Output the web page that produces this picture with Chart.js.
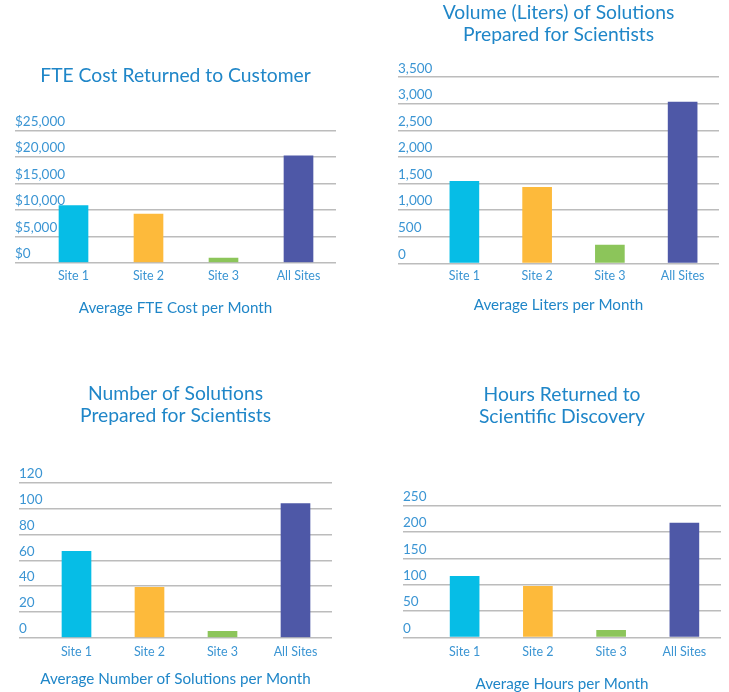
<!DOCTYPE html>
<html>
<head>
<meta charset="utf-8">
<script src="https://cdn.jsdelivr.net/npm/chart.js@4.4.1/dist/chart.umd.min.js"></script>
<style>
  html, body { margin: 0; padding: 0; background: #fff; }
  body { width: 729px; height: 692px; position: relative; overflow: hidden; }
  .box { position: absolute; }
</style>
</head>
<body>
<div class="box" id="b1"><canvas id="c1"></canvas></div>
<div class="box" id="b2"><canvas id="c2"></canvas></div>
<div class="box" id="b3"><canvas id="c3"></canvas></div>
<div class="box" id="b4"><canvas id="c4"></canvas></div>
<script>
const sites = ["Site 1", "Site 2", "Site 3", "All Sites"];
const barColors = ["#06bde6", "#fdba3b", "#8cc55a", "#4e58a7"];

const fteCost = [10800, 9200, 900, 20200];
const fteTicks = [0, 5000, 10000, 15000, 20000, 25000];

const liters = [1540, 1430, 340, 3030];
const literTicks = [0, 500, 1000, 1500, 2000, 2500, 3000, 3500];

const solutions = [67, 39, 5, 104];
const solutionTicks = [0, 20, 40, 60, 80, 100, 120];

const hours = [116, 97, 13, 217];
const hourTicks = [0, 50, 100, 150, 200, 250];

const FONT = "Lato";
const titleColor = "#1f86c8";
const tickColor = "#3b95d3";
const gridColor = "#bcbcbc";

function makeChart(id, box, cfg) {
  const holder = document.getElementById(box.id);
  holder.style.left = box.left + "px";
  holder.style.top = box.top + "px";
  holder.style.width = box.width + "px";
  holder.style.height = box.height + "px";

  const ticks = cfg.ticks;
  new Chart(document.getElementById(id), {
    type: "bar",
    data: {
      labels: sites,
      datasets: [{
        data: cfg.values,
        backgroundColor: barColors,
        borderWidth: 0,
        barThickness: 29
      }]
    },
    options: {
      responsive: true,
      maintainAspectRatio: false,
      animation: false,
      layout: { padding: 0 },
      plugins: {
        legend: { display: false },
        tooltip: { enabled: false },
        title: {
          display: true,
          text: cfg.title,
          color: titleColor,
          font: { family: FONT, size: 19.3, weight: "normal", lineHeight: 1.15 },
          padding: cfg.titlePad
        },
        subtitle: {
          display: true,
          position: "bottom",
          text: cfg.xTitle,
          color: titleColor,
          font: { family: FONT, size: 15.2, weight: "normal", lineHeight: 1.1 },
          padding: cfg.subPad
        }
      },
      scales: {
        x: {
          grid: { display: false, drawTicks: false },
          border: { display: false },
          ticks: {
            padding: cfg.xPad,
            color: tickColor,
            font: { family: FONT, size: 12.5 }
          }
        },
        y: {
          min: 0,
          max: ticks[ticks.length - 1],
          afterBuildTicks: s => { s.ticks = ticks.map(v => ({ value: v })); },
          afterFit: s => { s.width = cfg.axisW; },
          border: { display: false },
          grid: { color: gridColor, lineWidth: 1.5, drawTicks: true, tickLength: cfg.axisW },
          ticks: {
            mirror: true,
            crossAlign: "near",
            labelOffset: -9,
            padding: -cfg.axisW,
            color: tickColor,
            font: { family: FONT, size: 13.5 },
            callback: v => (cfg.prefix || "") + Number(v).toLocaleString("en-US")
          }
        }
      }
    }
  });
}

makeChart("c1", { id: "b1", left: 15, top: 50, width: 321, height: 271 }, {
  title: "FTE Cost Returned to Customer",
  xTitle: "Average FTE Cost per Month",
  values: fteCost, ticks: fteTicks, prefix: "$",
  axisW: 21, xPad: 6,
  titlePad: { top: 15, bottom: 43.3 },
  subPad: { top: 9.5, bottom: 5 }
});

makeChart("c2", { id: "b2", left: 398, top: 0, width: 321, height: 318 }, {
  title: ["Volume (Liters) of Solutions", "Prepared for Scientists"],
  xTitle: "Average Liters per Month",
  values: liters, ticks: literTicks,
  axisW: 30, xPad: 5.5,
  titlePad: { top: 1.5, bottom: 31.3 },
  subPad: { top: 7, bottom: 5 }
});

makeChart("c3", { id: "b3", left: 19, top: 370, width: 313, height: 321 }, {
  title: ["Number of Solutions", "Prepared for Scientists"],
  xTitle: "Average Number of Solutions per Month",
  values: solutions, ticks: solutionTicks,
  axisW: 21, xPad: 7,
  titlePad: { top: 12.8, bottom: 55.6 },
  subPad: { top: 3.5, bottom: 4 }
});

makeChart("c4", { id: "b4", left: 403, top: 370, width: 318, height: 322 }, {
  title: ["Hours Returned to", "Scientific Discovery"],
  xTitle: "Average Hours per Month",
  values: hours, ticks: hourTicks,
  axisW: 25, xPad: 7.5,
  titlePad: { top: 13.8, bottom: 77.6 },
  subPad: { top: 8, bottom: 0 }
});
</script>
</body>
</html>
